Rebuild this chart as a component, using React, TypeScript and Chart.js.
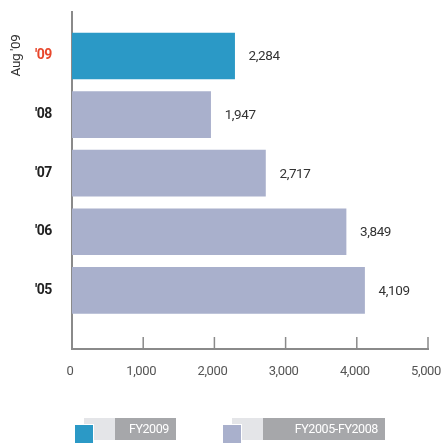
import React, { useEffect, useRef } from "react";
import { Chart, registerables } from "chart.js";

Chart.register(...registerables);

const categories = ["'09", "'08", "'07", "'06", "'05"];
const values = [2284, 1947, 2717, 3849, 4109];
const barColors = ["#2b99c6", "#a9b0cc", "#a9b0cc", "#a9b0cc", "#a9b0cc"];
const xTicks = [0, 1000, 2000, 3000, 4000, 5000];
const legendLabels = ["FY2009", "FY2005-FY2008"];
const legendColors = ["#2b99c6", "#a9b0cc"];
const sideLabel = "Aug '09";

const FONT = "Roboto, 'Liberation Sans', sans-serif";
const fmt = (v: number) => v.toLocaleString("en-US");

const overlay = {
  id: "overlay",
  beforeDraw(chart: any) {
    chart.ctx.letterSpacing = "-0.4px";
  },
  afterDatasetsDraw(chart: any) {
    const { ctx, chartArea, scales } = chart;
    const xs = scales.x;
    ctx.save();
    // tick marks pointing up
    ctx.strokeStyle = "#8a8a8a";
    ctx.lineWidth = 1.5;
    xTicks.forEach((t) => {
      if (t === 0) return;
      const px = xs.getPixelForValue(t);
      ctx.beginPath();
      ctx.moveTo(px, chartArea.bottom);
      ctx.lineTo(px, chartArea.bottom - 12);
      ctx.stroke();
    });
    // value labels
    const meta = chart.getDatasetMeta(0);
    ctx.fillStyle = "#333";
    ctx.font = `13.5px ${FONT}`;
    ctx.textBaseline = "middle";
    ctx.textAlign = "left";
    meta.data.forEach((bar: any, i: number) => {
      ctx.fillText(fmt(values[i]), bar.x + 14, bar.y + 1);
    });
    // side rotated label
    ctx.save();
    ctx.translate(16.5, 55.5);
    ctx.rotate(-Math.PI / 2);
    ctx.textAlign = "center";
    ctx.textBaseline = "middle";
    ctx.fillStyle = "#333";
    ctx.font = `13.5px ${FONT}`;
    ctx.fillText(sideLabel, 0, 0);
    ctx.restore();
    // legend
    const items = [
      { sq: 75, light: 84, dark: 115, end: 176 },
      { sq: 223, light: 232, dark: 263, end: 385 },
    ];
    items.forEach((it, i) => {
      ctx.fillStyle = "#e4e5e8";
      ctx.fillRect(it.light, 418, it.dark - it.light, 22);
      ctx.fillStyle = "#a6a7aa";
      ctx.fillRect(it.dark, 418, it.end - it.dark, 22);
      ctx.fillStyle = "#ffffff";
      ctx.fillRect(it.sq - 1, 424, 20, 20);
      ctx.fillStyle = legendColors[i];
      ctx.fillRect(it.sq, 425, 18, 18);
      ctx.fillStyle = "#ffffff";
      ctx.font = `12.5px ${FONT}`;
      ctx.textAlign = "right";
      ctx.textBaseline = "middle";
      ctx.fillText(legendLabels[i], it.end - 7, 430);
    });
    ctx.restore();
  },
};

export default function App() {
  const ref = useRef<HTMLCanvasElement>(null);
  useEffect(() => {
    document.body.style.margin = "0";
    const chart = new Chart(ref.current as HTMLCanvasElement, {
      type: "bar",
      data: {
        datasets: [
          {
            data: values.map((v, i) => ({ x: v, y: i })),
            backgroundColor: barColors,
            barThickness: 46,
            borderWidth: 0,
          },
        ],
      },
      options: {
        indexAxis: "y",
        responsive: false,
        animation: false,
        layout: { padding: { top: 12, right: 13, left: 0, bottom: 0 } },
        plugins: { legend: { display: false }, tooltip: { enabled: false } },
        scales: {
          x: {
            type: "linear",
            min: 0,
            max: 5000,
            offset: false,
            grid: { display: false, drawTicks: false },
            border: { display: true, color: "#8a8a8a", width: 2 },
            afterBuildTicks: (s: any) => {
              s.ticks = xTicks.map((v) => ({ value: v }));
            },
            afterFit: (s: any) => {
              s.height = 97;
              s.paddingLeft = 0;
              s.paddingRight = 0;
            },
            ticks: {
              padding: 15,
              labelOffset: -2,
              color: "#555",
              font: { family: FONT, size: 13 },
              maxRotation: 0,
              autoSkip: false,
              callback: (v: any) => fmt(Number(v)),
            },
          },
          y: {
            type: "linear",
            min: -0.75,
            max: 5,
            reverse: true,
            offset: false,
            grid: { display: false, drawTicks: false },
            border: { display: true, color: "#8a8a8a", width: 2 },
            afterBuildTicks: (s: any) => {
              s.ticks = categories.map((_, i) => ({ value: i }));
            },
            afterFit: (s: any) => {
              s.width = 72;
              s.paddingTop = 0;
              s.paddingBottom = 0;
            },
            ticks: {
              padding: 20,
              autoSkip: false,
              color: (c: any) => (c.tick && c.tick.value === 0 ? "#e8472c" : "#222"),
              font: { family: FONT, size: 14, weight: "bold" },
              callback: (v: any) => categories[Number(v)] ?? "",
            },
          },
        },
      },
      plugins: [overlay],
    } as any);
    return () => chart.destroy();
  }, []);
  return <canvas ref={ref} width={441} height={446} />;
}
